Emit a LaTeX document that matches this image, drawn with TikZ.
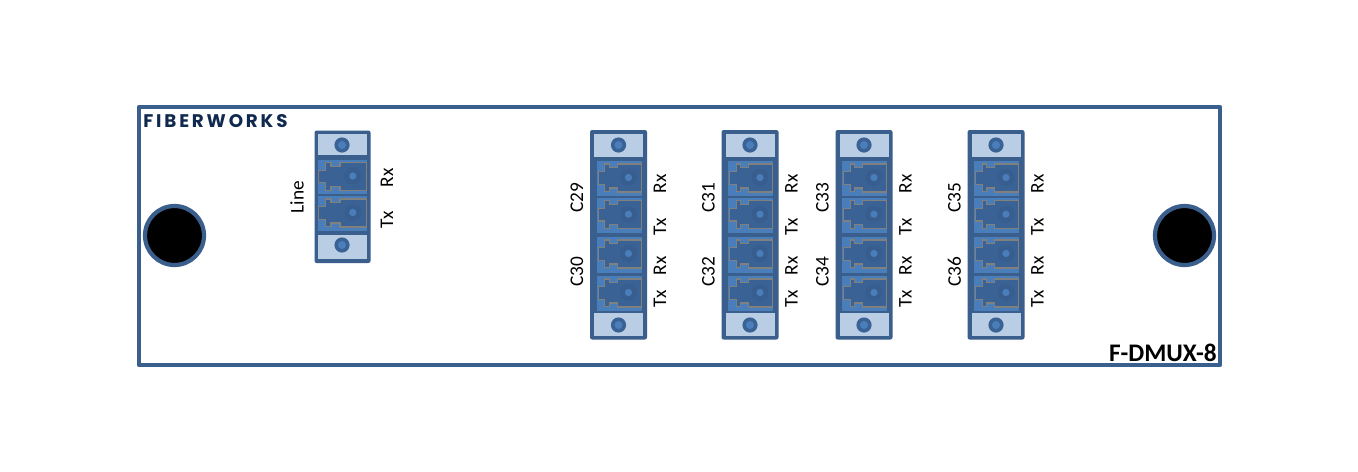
\documentclass[tikz,border=0pt]{standalone}
\usepackage{fontspec}
\setmainfont{Carlito}
\newfontfamily\logofont[LetterSpace=15.5]{Poppins}
\definecolor{panelblue}{HTML}{3A5F8C}
\definecolor{capblue}{HTML}{B9CDE5}
\definecolor{portblue}{HTML}{4A7EBB}
\definecolor{jackblue}{HTML}{3A6294}
\definecolor{haloblue}{HTML}{375E8F}
\definecolor{jackedge}{HTML}{80807E}
\definecolor{logonavy}{HTML}{10294F}
\tikzset{
  panel/.style={draw=panelblue,line width=2.4pt,fill=white,line join=round},
  hole/.style={draw=panelblue,line width=2.4pt,fill=black},
  modbody/.style={fill=panelblue,rounded corners=1.2pt},
  modcap/.style={fill=capblue},
  screw/.style={fill=jackblue},
  dot/.style={fill=portblue},
  portlabel/.style={rotate=90,font=\fontsize{11}{12}\selectfont,inner sep=0pt,text=black}
}
% x y width height of one port
\newcommand{\fiberport}[4]{
  \fill[portblue] (#1,#2) rectangle ++(#3,#4);
  \begin{scope}[shift={(#1+49/3-#3/3,#2)},xscale=(4*#3-49)/147]
    \draw[draw=jackedge,fill=jackblue,line width=0.6pt]
      (48.7,3) -- (22,3) -- (22,6.7) -- (13,6.7) -- (13,3) -- (7.7,3) -- (7.7,10.7)
      -- (0.4,10.7) -- (0.4,23.3) -- (7.7,23.3) -- (7.7,30.7) -- (13,30.7) -- (13,27)
      -- (22,27) -- (22,31) -- (48.7,31) -- cycle;
  \end{scope}
  \fill[haloblue] (#1+#3*0.71,#2+16.5) circle (8.5);
  \fill[dot] (#1+#3*0.71,#2+16.5) circle (3.6);
}
% center x, y of a screw on its cap
\newcommand{\capscrew}[2]{
  \fill[screw] (#1,#2) circle (7.6);
  \fill[dot] (#1,#2) circle (4);
}
\begin{document}
\begin{tikzpicture}[x=0.02cm,y=-0.02cm]
\useasboundingbox (0,0) rectangle (1358,471);
\fill[white] (0,0) rectangle (1358,471);

\draw[panel] (139,107) rectangle (1220,365);
\draw[hole] (174.5,235.5) circle (29.5);
\draw[hole] (1184.5,235.5) circle (29.5);

\node[anchor=west,inner sep=0pt,text=logonavy,font=\logofont\bfseries\fontsize{10.4}{11}\selectfont] (logo) at (143,121) {FIBERWORKS};
\node[anchor=east,inner sep=0pt,font=\bfseries\fontsize{14.4}{15}\selectfont] (model) at (1217,353) {F-DMUX-8};

% line module
\fill[modbody] (314.5,130.5) rectangle (370.5,263);
\fill[modcap] (318,134) rectangle (367,155);
\fill[modcap] (318,235) rectangle (367,259);
\capscrew{342}{145}
\capscrew{342}{245}
\fiberport{318}{159.5}{49}{34.5}
\fiberport{318}{196}{49}{35}
\node[portlabel] (line) at (297,197) {Line};
\node[portlabel] (linerx) at (387,178) {Rx};
\node[portlabel] (linetx) at (387,220) {Tx};

% channel modules
\foreach \modname/\modx/\nameone/\nametwo in {a/618.5/C29/C30,b/750/C31/C32,c/864/C33/C34,d/996/C35/C36}{
  \fill[modbody] (\modx-28.5,130) rectangle (\modx+28.5,339.5);
  \fill[modcap] (\modx-24.5,134) rectangle (\modx+24.5,157);
  \fill[modcap] (\modx-24.5,313) rectangle (\modx+24.5,336);
  \capscrew{\modx}{145}
  \capscrew{\modx}{325}
  \fiberport{\modx-22}{161}{45}{35}
  \fiberport{\modx-22}{197.7}{45}{35}
  \fiberport{\modx-22}{237}{45}{35.5}
  \fiberport{\modx-22}{276}{45}{34.5}
  \node[portlabel] (\modname one) at (\modx-41.5,198) {\nameone};
  \node[portlabel] (\modname two) at (\modx-41.5,272) {\nametwo};
  \node[portlabel] (\modname rxa) at (\modx+41.5,184) {Rx};
  \node[portlabel] (\modname txa) at (\modx+41.5,227) {Tx};
  \node[portlabel] (\modname rxb) at (\modx+41.5,266) {Rx};
  \node[portlabel] (\modname txb) at (\modx+41.5,299) {Tx};
}
\end{tikzpicture}
\end{document}
